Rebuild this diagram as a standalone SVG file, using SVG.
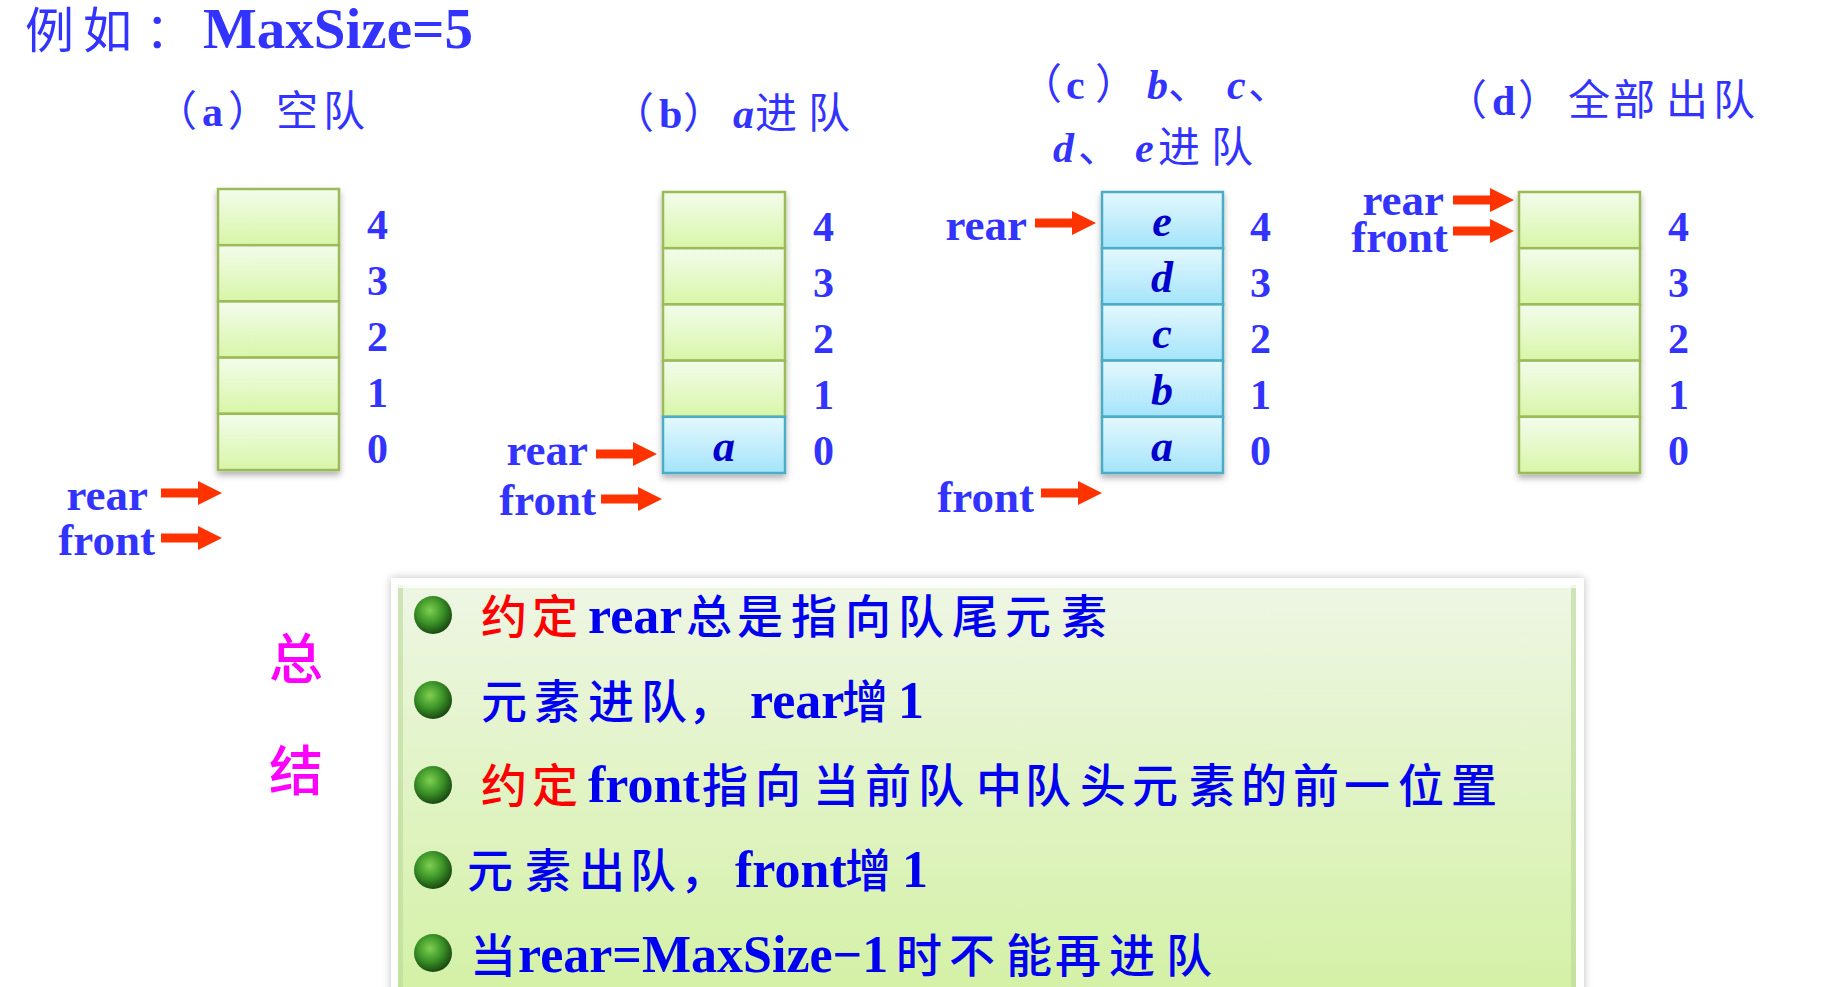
<svg xmlns="http://www.w3.org/2000/svg" xmlns:xlink="http://www.w3.org/1999/xlink" width="1821" height="987" viewBox="0 0 1821 987">
<style>
.t{font-family:"Liberation Serif","Noto Sans CJK SC",serif;fill:#3333FF;font-weight:bold}
.c{font-family:"Noto Sans CJK SC",sans-serif;font-weight:normal}
.it{font-style:italic}
.lbl{font-size:42px}
.num{font-family:"Liberation Serif",serif;font-weight:bold;font-size:42px;fill:#3333FF}
.ptr{font-family:"Liberation Serif",serif;font-weight:bold;font-size:45px;fill:#3333FF;text-anchor:end}
.cl{font-family:"Liberation Serif",serif;font-weight:bold;font-style:italic;font-size:44px;fill:#0000CC;text-anchor:middle}
.gc{fill:url(#gGreen);stroke:#9BBB59;stroke-width:2.5}
.bc{fill:url(#gBlue);stroke:#4BACC6;stroke-width:2.5}
.arr{fill:#FF3300}
.s{font-family:"Liberation Serif","Noto Sans CJK SC",serif;font-weight:bold;font-size:52px;fill:#0000F0}
.sc{font-family:"Noto Sans CJK SC",sans-serif;font-weight:500;font-size:46px}
.red{fill:#FF0000}
.sum{font-family:"Noto Sans CJK SC",sans-serif;font-weight:500;font-size:54px;fill:#FF00FF}
</style>
<defs>
<linearGradient id="gGreen" x1="0" y1="0" x2="0" y2="1">
<stop offset="0" stop-color="#F3FCEC"/><stop offset="1" stop-color="#D8F6A8"/>
</linearGradient>
<linearGradient id="gBlue" x1="0" y1="0" x2="0" y2="1">
<stop offset="0" stop-color="#E4F8FE"/><stop offset="1" stop-color="#A4E4FA"/>
</linearGradient>
<linearGradient id="gPanel" gradientUnits="userSpaceOnUse" x1="0" y1="585" x2="0" y2="990">
<stop offset="0" stop-color="#EEF6E4"/><stop offset="1" stop-color="#D4F1A6"/>
</linearGradient>
<radialGradient id="gBall" cx="0.42" cy="0.38" r="0.62">
<stop offset="0" stop-color="#7FD050"/><stop offset="0.55" stop-color="#3C9428"/><stop offset="1" stop-color="#1A4A12"/>
</radialGradient>
<filter id="shadow" x="-10%" y="-10%" width="120%" height="125%">
<feDropShadow dx="0" dy="4" stdDeviation="3" flood-color="#000" flood-opacity="0.3"/>
</filter>
<filter id="pshadow" x="-5%" y="-10%" width="110%" height="130%">
<feDropShadow dx="0" dy="0" stdDeviation="4" flood-color="#000" flood-opacity="0.25"/>
</filter>
<path id="arrow" class="arr" d="M-61,-4.5 H-24 V-12 L0,0 L-24,12 V4.5 H-61 Z"/>
</defs>
<rect width="1821" height="987" fill="#FFFFFF"/>

<g id="title">
<text class="t" y="48" font-size="57"><tspan class="c" font-size="49" font-weight="500" x="25 83 145">例如：</tspan><tspan x="203">MaxSize=5</tspan></text>
</g>

<g id="label-a">
<text class="t lbl" y="126"><tspan class="c" x="155">（</tspan><tspan x="202">a</tspan><tspan class="c" x="228">）</tspan><tspan class="c" x="276 323">空队</tspan></text>
</g>
<g id="label-b">
<text class="t lbl" y="128"><tspan class="c" x="612">（</tspan><tspan x="659">b</tspan><tspan class="c" x="683">）</tspan><tspan class="it" x="733">a</tspan><tspan class="c" x="755 808">进队</tspan></text>
</g>
<g id="label-c">
<text class="t lbl" y="99"><tspan class="c" x="1020">（</tspan><tspan x="1066">c</tspan><tspan class="c" x="1095">）</tspan><tspan class="it" x="1147">b</tspan><tspan class="c" x="1168">、</tspan><tspan class="it" x="1227">c</tspan><tspan class="c" x="1248">、</tspan></text>
<text class="t lbl" y="162"><tspan class="it" x="1053">d</tspan><tspan class="c" x="1078">、</tspan><tspan class="it" x="1135">e</tspan><tspan class="c" x="1158 1211">进队</tspan></text>
</g>
<g id="label-d">
<text class="t lbl" y="115"><tspan class="c" x="1445">（</tspan><tspan x="1492">d</tspan><tspan class="c" x="1518">）</tspan><tspan class="c" x="1568 1613 1666 1713">全部出队</tspan></text>
</g>

<g id="queue-a">
<g filter="url(#shadow)">
<rect class="gc" x="218" y="189" width="121" height="56.2"/>
<rect class="gc" x="218" y="245.2" width="121" height="56.2"/>
<rect class="gc" x="218" y="301.4" width="121" height="56.2"/>
<rect class="gc" x="218" y="357.6" width="121" height="56.2"/>
<rect class="gc" x="218" y="413.8" width="121" height="56.2"/>
</g>
<text class="num" x="367" y="239">4</text>
<text class="num" x="367" y="295">3</text>
<text class="num" x="367" y="351">2</text>
<text class="num" x="367" y="407">1</text>
<text class="num" x="367" y="463">0</text>
</g>

<g id="queue-b">
<g filter="url(#shadow)">
<rect class="gc" x="663" y="192" width="122" height="56.2"/>
<rect class="gc" x="663" y="248.2" width="122" height="56.2"/>
<rect class="gc" x="663" y="304.4" width="122" height="56.2"/>
<rect class="gc" x="663" y="360.6" width="122" height="56.2"/>
<rect class="bc" x="663" y="416.8" width="122" height="56.2"/>
</g>
<text class="cl" x="724" y="461">a</text>
<text class="num" x="813" y="241">4</text>
<text class="num" x="813" y="297">3</text>
<text class="num" x="813" y="353">2</text>
<text class="num" x="813" y="409">1</text>
<text class="num" x="813" y="465">0</text>
</g>

<g id="queue-c">
<g filter="url(#shadow)">
<rect class="bc" x="1102" y="192" width="121" height="56.2"/>
<rect class="bc" x="1102" y="248.2" width="121" height="56.2"/>
<rect class="bc" x="1102" y="304.4" width="121" height="56.2"/>
<rect class="bc" x="1102" y="360.6" width="121" height="56.2"/>
<rect class="bc" x="1102" y="416.8" width="121" height="56.2"/>
</g>
<text class="cl" x="1162" y="236">e</text>
<text class="cl" x="1162" y="292">d</text>
<text class="cl" x="1162" y="348">c</text>
<text class="cl" x="1162" y="405">b</text>
<text class="cl" x="1162" y="461">a</text>
<text class="num" x="1250" y="241">4</text>
<text class="num" x="1250" y="297">3</text>
<text class="num" x="1250" y="353">2</text>
<text class="num" x="1250" y="409">1</text>
<text class="num" x="1250" y="465">0</text>
</g>

<g id="queue-d">
<g filter="url(#shadow)">
<rect class="gc" x="1519" y="192" width="121" height="56.2"/>
<rect class="gc" x="1519" y="248.2" width="121" height="56.2"/>
<rect class="gc" x="1519" y="304.4" width="121" height="56.2"/>
<rect class="gc" x="1519" y="360.6" width="121" height="56.2"/>
<rect class="gc" x="1519" y="416.8" width="121" height="56.2"/>
</g>
<text class="num" x="1668" y="241">4</text>
<text class="num" x="1668" y="297">3</text>
<text class="num" x="1668" y="353">2</text>
<text class="num" x="1668" y="409">1</text>
<text class="num" x="1668" y="465">0</text>
</g>

<g id="pointers">
<text class="ptr" x="148" y="510">rear</text>
<text class="ptr" x="155" y="555">front</text>
<text class="ptr" x="588" y="465">rear</text>
<text class="ptr" x="596" y="515">front</text>
<text class="ptr" x="1027" y="240">rear</text>
<text class="ptr" x="1034" y="512">front</text>
<text class="ptr" x="1444" y="215">rear</text>
<text class="ptr" x="1448" y="252">front</text>
</g>

<g id="connectors">
<use xlink:href="#arrow" href="#arrow" x="222" y="493"/>
<use xlink:href="#arrow" href="#arrow" x="222" y="538"/>
<use xlink:href="#arrow" href="#arrow" x="657" y="454"/>
<use xlink:href="#arrow" href="#arrow" x="662" y="499"/>
<use xlink:href="#arrow" href="#arrow" x="1096" y="223"/>
<use xlink:href="#arrow" href="#arrow" x="1102" y="493"/>
<use xlink:href="#arrow" href="#arrow" x="1514" y="200"/>
<use xlink:href="#arrow" href="#arrow" x="1514" y="231"/>
</g>

<g id="summary-title">
<text class="sum" x="269" y="679">总</text>
<text class="sum" x="269" y="791">结</text>
</g>

<g id="summary-box">
<rect x="391" y="578" width="1193" height="430" fill="#FFFFFF" filter="url(#pshadow)"/>
<rect x="398" y="585" width="1178" height="420" fill="url(#gPanel)"/>
<rect x="398" y="585" width="5" height="420" fill="#B9D99A" opacity="0.6"/>
<rect x="1571" y="585" width="5" height="420" fill="#B9D99A" opacity="0.6"/>
<rect x="398" y="585" width="1178" height="3" fill="#FFFFFF" opacity="0.7"/>
<g id="bullets">
<circle cx="433" cy="615" r="19" fill="url(#gBall)"/>
<circle cx="433" cy="700" r="19" fill="url(#gBall)"/>
<circle cx="433" cy="785" r="19" fill="url(#gBall)"/>
<circle cx="433" cy="870" r="19" fill="url(#gBall)"/>
<circle cx="433" cy="953" r="19" fill="url(#gBall)"/>
</g>
<text class="s" y="633"><tspan class="sc red" x="481 532">约定</tspan><tspan x="588">rear</tspan><tspan class="sc" x="686 737 791 845 898 952 1005 1061">总是指向队尾元素</tspan></text>
<text class="s" y="718"><tspan class="sc" x="481 534 588 641 688">元素进队，</tspan><tspan x="750">rear</tspan><tspan class="sc" x="842">增</tspan><tspan x="898">1</tspan></text>
<text class="s" y="802"><tspan class="sc red" x="481 532">约定</tspan><tspan x="588">front</tspan><tspan class="sc" x="702 755 813 865 918 976 1025 1080 1132 1189 1241 1293 1344 1398 1451">指向当前队中队头元素的前一位置</tspan></text>
<text class="s" y="887"><tspan class="sc" x="467 525 579 630 680">元素出队，</tspan><tspan x="735">front</tspan><tspan class="sc" x="845">增</tspan><tspan x="902">1</tspan></text>
<text class="s" y="972"><tspan class="sc" x="470">当</tspan><tspan x="518">rear=MaxSize−1</tspan><tspan class="sc" x="896 949 1006 1055 1109 1166">时不能再进队</tspan></text>
</g>
</svg>
